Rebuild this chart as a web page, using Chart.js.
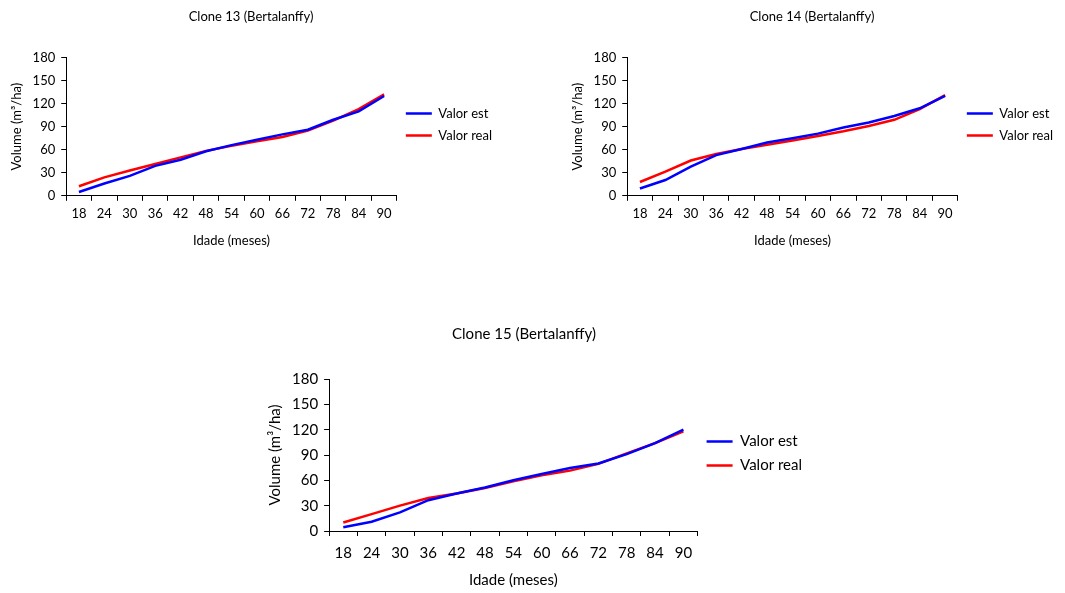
<!DOCTYPE html>
<html>
<head>
<meta charset="utf-8">
<script src="https://cdn.jsdelivr.net/npm/chart.js@4.4.1/dist/chart.umd.min.js"></script>
<style>
  body { margin: 0; background: #fff; width: 1065px; height: 593px; position: relative; overflow: hidden; }
  .box { position: absolute; }
</style>
</head>
<body>
<div class="box" style="left:0px;top:0px;width:502px;height:258px"><canvas id="c13"></canvas></div>
<div class="box" style="left:561px;top:0px;width:502px;height:258px"><canvas id="c14"></canvas></div>
<div class="box" style="left:236px;top:318px;width:582px;height:275px"><canvas id="c15"></canvas></div>
<script>
// ages in months
const ages = ["18", "24", "30", "36", "42", "48", "54", "60", "66", "72", "78", "84", "90"];
// Clone 13
const est13 = [5, 16, 26, 39, 47, 58, 66, 73, 80, 86, 99, 110, 130];
const real13 = [12.5, 24, 33, 41.5, 50, 58.5, 65, 71, 76.5, 85, 98, 113, 132];
// Clone 14
const est14 = [9.5, 20.5, 38, 53, 61, 69.5, 75, 81, 89, 95.5, 104, 114, 130];
const real14 = [18, 31.5, 46, 54.5, 61, 66.5, 72, 78, 84, 91, 99, 113, 131];
// Clone 15
const est15 = [4.5, 11, 22, 36.5, 44.5, 51.5, 60, 67.5, 74.5, 80, 91, 104, 120];
const real15 = [10, 20, 30, 39, 44.5, 51, 59, 66, 71.5, 79.5, 92, 104, 118];

const seriesNames = ["Valor est", "Valor real"];
const lineColors = ["#0000ff", "#ff0000"];

Chart.defaults.font.family = "Lato, 'Open Sans', sans-serif";
Chart.defaults.color = "#000";
Chart.defaults.animation = false;

// s = sizes/spacings for one panel
function makeChart(id, titleText, est, real, s) {
  return new Chart(document.getElementById(id), {
    type: "line",
    data: {
      labels: ages,
      datasets: [est, real].map((d, i) => ({
        label: seriesNames[i],
        data: d,
        borderColor: lineColors[i],
        backgroundColor: lineColors[i],
        borderWidth: 2.5,
        pointRadius: 0,
        tension: 0,
      })),
    },
    options: {
      responsive: true,
      maintainAspectRatio: false,
      layout: { padding: { left: 0, right: s.right, top: 0, bottom: s.bottom } },
      plugins: {
        tooltip: false,
        title: {
          display: true,
          text: titleText,
          font: { size: s.fs, weight: "normal" },
          padding: { top: s.titleTop, bottom: s.titleBottom },
        },
        legend: {
          position: "right",
          labels: {
            usePointStyle: true,
            pointStyle: "line",
            pointStyleWidth: 26,
            font: { size: s.fs },
            padding: s.legendGap,
          },
        },
      },
      scales: {
        x: {
          offset: true,
          grid: { offset: true, drawOnChartArea: false, tickLength: 5, color: "#000" },
          border: { color: "#000" },
          ticks: { font: { size: s.fs }, maxRotation: 0, padding: s.xTickPad },
          title: { display: true, text: "Idade (meses)", font: { size: s.fs }, padding: { top: s.xTitlePad, bottom: 0 } },
        },
        y: {
          min: 0,
          max: 180,
          grid: { drawOnChartArea: false, tickLength: 5, color: "#000" },
          border: { color: "#000" },
          ticks: { stepSize: 30, font: { size: s.fs }, padding: s.yTickPad },
          title: { display: true, text: "Volume (m³/ha)", font: { size: s.fs }, padding: { top: s.yTitleOut, bottom: s.yTitleIn } },
        },
      },
    },
  });
}

const topPanel = { fs: 13, right: 0, bottom: 9, titleTop: 9, titleBottom: 33, legendGap: 9,
  xTickPad: 5, xTitlePad: 7, yTickPad: 6, yTitleOut: 9, yTitleIn: 2 };
const bottomPanel = { fs: 15, right: 6, bottom: 4, titleTop: 7, titleBottom: 36, legendGap: 9,
  xTickPad: 8, xTitlePad: 1, yTickPad: 6, yTitleOut: 30, yTitleIn: 2 };

makeChart("c13", "Clone 13 (Bertalanffy)", est13, real13, topPanel);
makeChart("c14", "Clone 14 (Bertalanffy)", est14, real14, topPanel);
makeChart("c15", "Clone 15 (Bertalanffy)", est15, real15, bottomPanel);
</script>
</body>
</html>
